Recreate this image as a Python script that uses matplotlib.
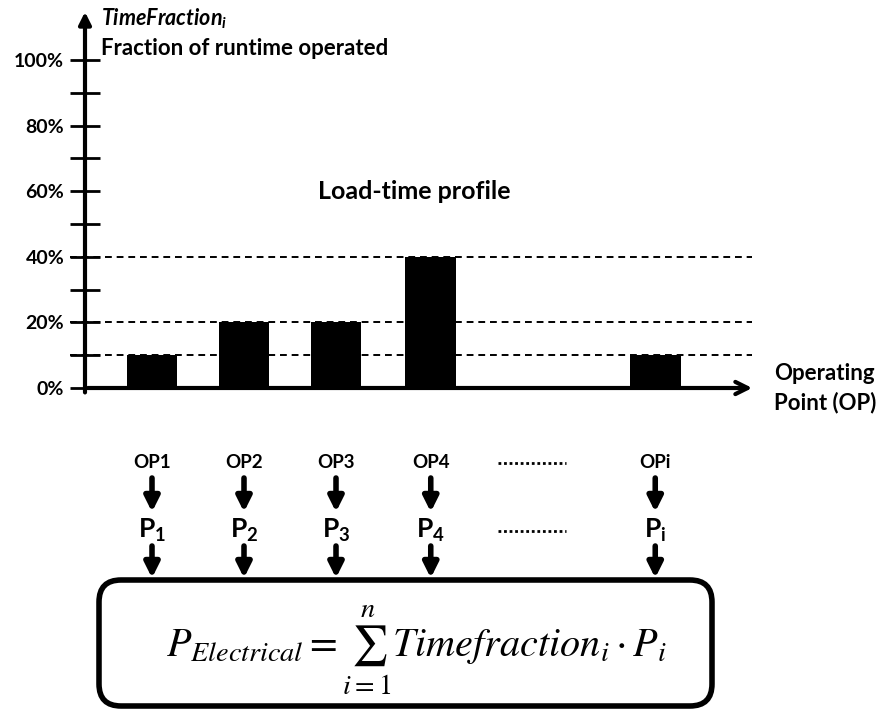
import matplotlib
matplotlib.use("Agg")
import matplotlib.pyplot as plt
from matplotlib.patches import FancyBboxPatch
from matplotlib.transforms import blended_transform_factory

# data
op_labels = ["OP1", "OP2", "OP3", "OP4", "OPi"]
p_labels = [r"$\mathrm{P}_\mathrm{1}$", r"$\mathrm{P}_\mathrm{2}$", r"$\mathrm{P}_\mathrm{3}$",
            r"$\mathrm{P}_\mathrm{4}$", r"$\mathrm{P}_\mathrm{i}$"]
time_fraction = [10, 20, 20, 40, 10]   # % of runtime
op_pos = [1, 2, 3, 4.03, 6.47]         # position along the OP axis
major_ticks = [0, 20, 40, 60, 80, 100]
minor_ticks = [10, 30, 50, 70, 90]
guide_levels = [10, 20, 40]

plt.rcParams["font.family"] = ["Lato", "DejaVu Sans"]
plt.rcParams["mathtext.fontset"] = "stix"
plt.rcParams["mathtext.rm"] = "Lato:bold"
plt.rcParams["mathtext.it"] = "Lato:italic:bold"
plt.rcParams["mathtext.bf"] = "Lato:bold"

W, H = 882, 711
fig = plt.figure(figsize=(W / 100, H / 100), dpi=100)

# bar axes placed in pixel terms
x0_px, ux = 60, 92          # px of x=0, px per unit
zero_px, uy = 388, 3.28     # px of 0%, px per percent
left_px, right_px, top_px, bot_px = 85, 760, 10, 400
ax = fig.add_axes([left_px / W, (H - bot_px) / H, (right_px - left_px) / W, (bot_px - top_px) / H])
ax.set_xlim((left_px - x0_px) / ux, (right_px - x0_px) / ux)
ax.set_ylim((zero_px - bot_px) / uy, (zero_px - top_px) / uy)
for s in ax.spines.values():
    s.set_visible(False)
ax.patch.set_visible(False)

ax.bar(op_pos, time_fraction, width=0.55, color="black", zorder=3)

xa = ax.get_xlim()[0]
x_end = (755 - x0_px) / ux
for lv in guide_levels:
    ax.hlines(lv, (70 - x0_px) / ux, (752 - x0_px) / ux, colors="black", linestyles=(0, (3.5, 2.5)),
              lw=1.4, clip_on=False, zorder=2)

# axes arrows
ax.annotate("", xy=(xa, 115.5), xytext=(xa, -2.2), annotation_clip=False,
            arrowprops=dict(arrowstyle="-|>", lw=3, color="black", mutation_scale=18))
ax.annotate("", xy=(x_end, 0), xytext=(xa, 0), annotation_clip=False,
            arrowprops=dict(arrowstyle="->", lw=3, color="black", mutation_scale=22))

ax.set_xticks([])
ax.set_yticks(major_ticks)
ax.set_yticklabels([f"{t}%" for t in major_ticks], fontsize=14, fontweight="bold")
ax.set_yticks(minor_ticks, minor=True)
ax.tick_params(axis="y", which="both", direction="inout", length=22, width=2, pad=4, color="black")

ax.text((414 - x0_px) / ux, 60, "Load-time profile", fontsize=18, fontweight="bold",
        ha="center", va="center")
ax.text(xa + 0.17, 112.5, r"$\mathit{TimeFraction}_i$", math_fontfamily="custom", fontsize=15.5,
        ha="left", va="center")
ax.text(xa + 0.17, 103.5, "Fraction of runtime operated", fontsize=16, fontweight="bold",
        ha="left", va="center")
ax.text((774 - x0_px) / ux, 0, "Operating\nPoint (OP)", fontsize=16, fontweight="bold",
        ha="left", va="center", linespacing=1.45)

# overlay in figure pixels for the lower diagram
ov = fig.add_axes([0, 0, 1, 1])
ov.set_xlim(0, W)
ov.set_ylim(H, 0)
ov.axis("off")
tr = blended_transform_factory(ax.transData, ov.transData)

arrow_kw = dict(arrowstyle="-|>", lw=4, color="black", mutation_scale=22, shrinkA=0, shrinkB=0)
for pos, op, p in zip(op_pos, op_labels, p_labels):
    ov.text(pos, 463, op, transform=tr, fontsize=13.5, fontweight="bold", ha="center", va="center")
    ov.annotate("", xy=(pos, 512), xytext=(pos, 478), xycoords=tr, textcoords=tr,
                arrowprops=arrow_kw)
    ov.text(pos, 530, p, transform=tr, math_fontfamily="custom", fontsize=19,
            ha="center", va="center")
    ov.annotate("", xy=(pos, 578), xytext=(pos, 546), xycoords=tr, textcoords=tr,
                arrowprops=arrow_kw)

for y in (463, 531):
    ov.plot([498, 566], [y, y], color="black", lw=2, linestyle=(0, (1, 1)))

box = FancyBboxPatch((99, 580), 613, 126, boxstyle="round,pad=0,rounding_size=22",
                     fc="white", ec="black", lw=4)
ov.add_patch(box)
ov.text(416, 650, r"$P_{Electrical} = \sum_{i=1}^{n} Timefraction_i \cdot P_i$",
        fontsize=29, ha="center", va="center")

fig.savefig("out.png", dpi=100)
